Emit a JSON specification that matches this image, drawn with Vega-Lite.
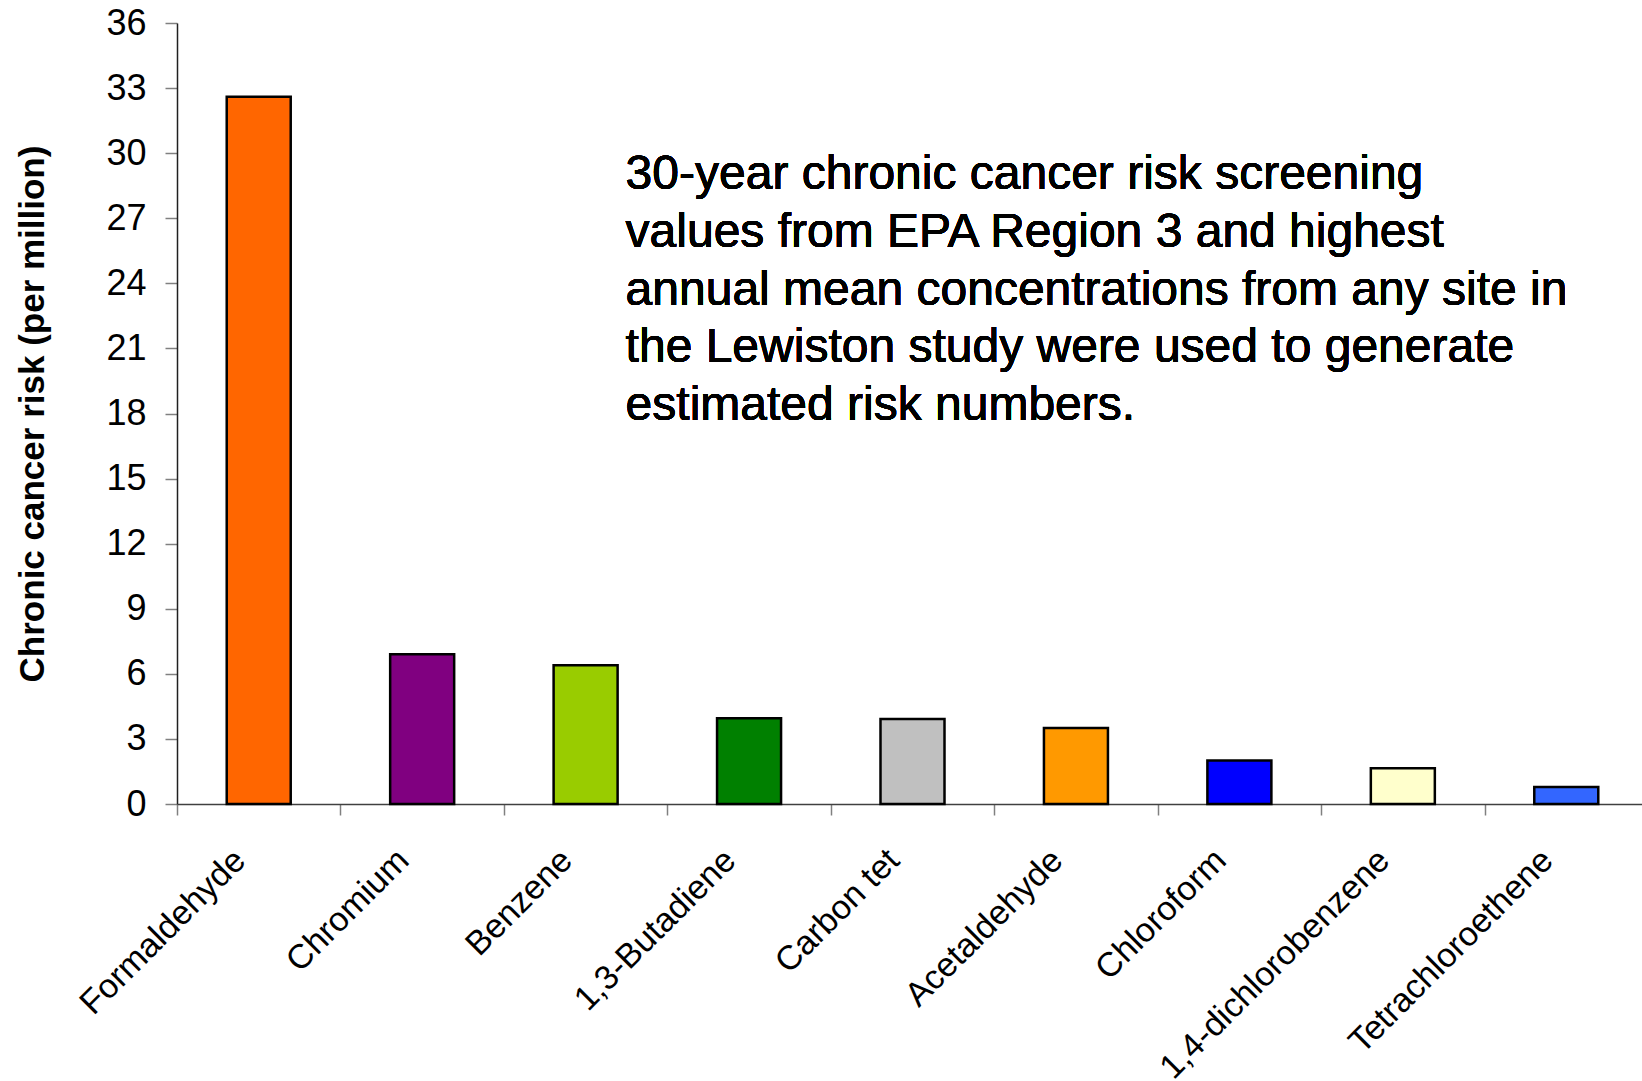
{
  "$schema": "https://vega.github.io/schema/vega-lite/v6.json",
  "autosize": {"type": "none"},
  "padding": {"left": 177, "top": 23, "right": -6, "bottom": 277},
  "width": 1471,
  "height": 781,
  "background": "white",
  "config": {"view": {"stroke": null}, "font": "Liberation Sans", "axis": {"grid": false}},
  "data": {
    "values": [
      {"chemical": "Formaldehyde", "risk": 32.6},
      {"chemical": "Chromium", "risk": 6.9},
      {"chemical": "Benzene", "risk": 6.4},
      {"chemical": "1,3-Butadiene", "risk": 3.95},
      {"chemical": "Carbon tet", "risk": 3.92},
      {"chemical": "Acetaldehyde", "risk": 3.5},
      {"chemical": "Chloroform", "risk": 2.0},
      {"chemical": "1,4-dichlorobenzene", "risk": 1.65},
      {"chemical": "Tetrachloroethene", "risk": 0.78}
    ]
  },
  "layer": [
    {
      "mark": {"type": "bar", "size": 64, "stroke": "black", "strokeWidth": 2.5},
      "encoding": {
        "x": {
          "field": "chemical", "type": "nominal", "sort": null,
          "scale": {"domain": ["Formaldehyde", "Chromium", "Benzene", "1,3-Butadiene", "Carbon tet", "Acetaldehyde", "Chloroform", "1,4-dichlorobenzene", "Tetrachloroethene"], "paddingInner": 0, "paddingOuter": 0},
          "axis": {
            "title": null, "tickBand": "extent", "tickSize": 11, "tickColor": "#808080", "tickWidth": 1.5,
            "domainColor": "#404040", "domainWidth": 1.5,
            "labelAngle": -45, "labelAlign": "right", "labelBaseline": "middle",
            "labelFontSize": 34, "labelColor": "black", "labelPadding": 40, "labelOffset": -19,
            "labelLimit": 0, "labelOverlap": false, "labelBound": false
          }
        },
        "y": {
          "field": "risk", "type": "quantitative",
          "scale": {"domain": [0, 36], "nice": false},
          "axis": {
            "values": [0, 3, 6, 9, 12, 15, 18, 21, 24, 27, 30, 33, 36],
            "tickSize": 12, "tickColor": "#808080", "tickWidth": 1.5,
            "domainColor": "#202020", "domainWidth": 1.5,
            "labelFontSize": 36, "labelColor": "black", "labelPadding": 19,
            "labelOverlap": false, "labelBound": false,
            "title": "Chronic cancer risk (per million)",
            "titleFontSize": 35, "titleFontWeight": "bold", "titleColor": "black",
            "titleAngle": -90, "titleX": -134, "titleY": 390.5,
            "titleAlign": "center", "titleBaseline": "alphabetic"
          }
        },
        "color": {
          "field": "chemical", "type": "nominal",
          "scale": {
            "domain": ["Formaldehyde", "Chromium", "Benzene", "1,3-Butadiene", "Carbon tet", "Acetaldehyde", "Chloroform", "1,4-dichlorobenzene", "Tetrachloroethene"],
            "range": ["#FF6600", "#800080", "#99CC00", "#008000", "#C0C0C0", "#FF9900", "#0000FF", "#FFFFCC", "#3366FF"]
          },
          "legend": null
        }
      }
    },
    {
      "mark": {"type": "text", "align": "left", "baseline": "alphabetic", "fontSize": 48, "lineHeight": 57.6, "dx": 40, "font": "Liberation Sans", "color": "black"},
      "encoding": {
        "x": {"datum": "Benzene", "type": "nominal"},
        "y": {"datum": 28.33, "type": "quantitative"},
        "text": {"value": ["30-year chronic cancer risk screening", "values from EPA Region 3 and highest", "annual mean concentrations from any site in", "the Lewiston study were used to generate", "estimated risk numbers."]}
      }
    }
  ]
}
